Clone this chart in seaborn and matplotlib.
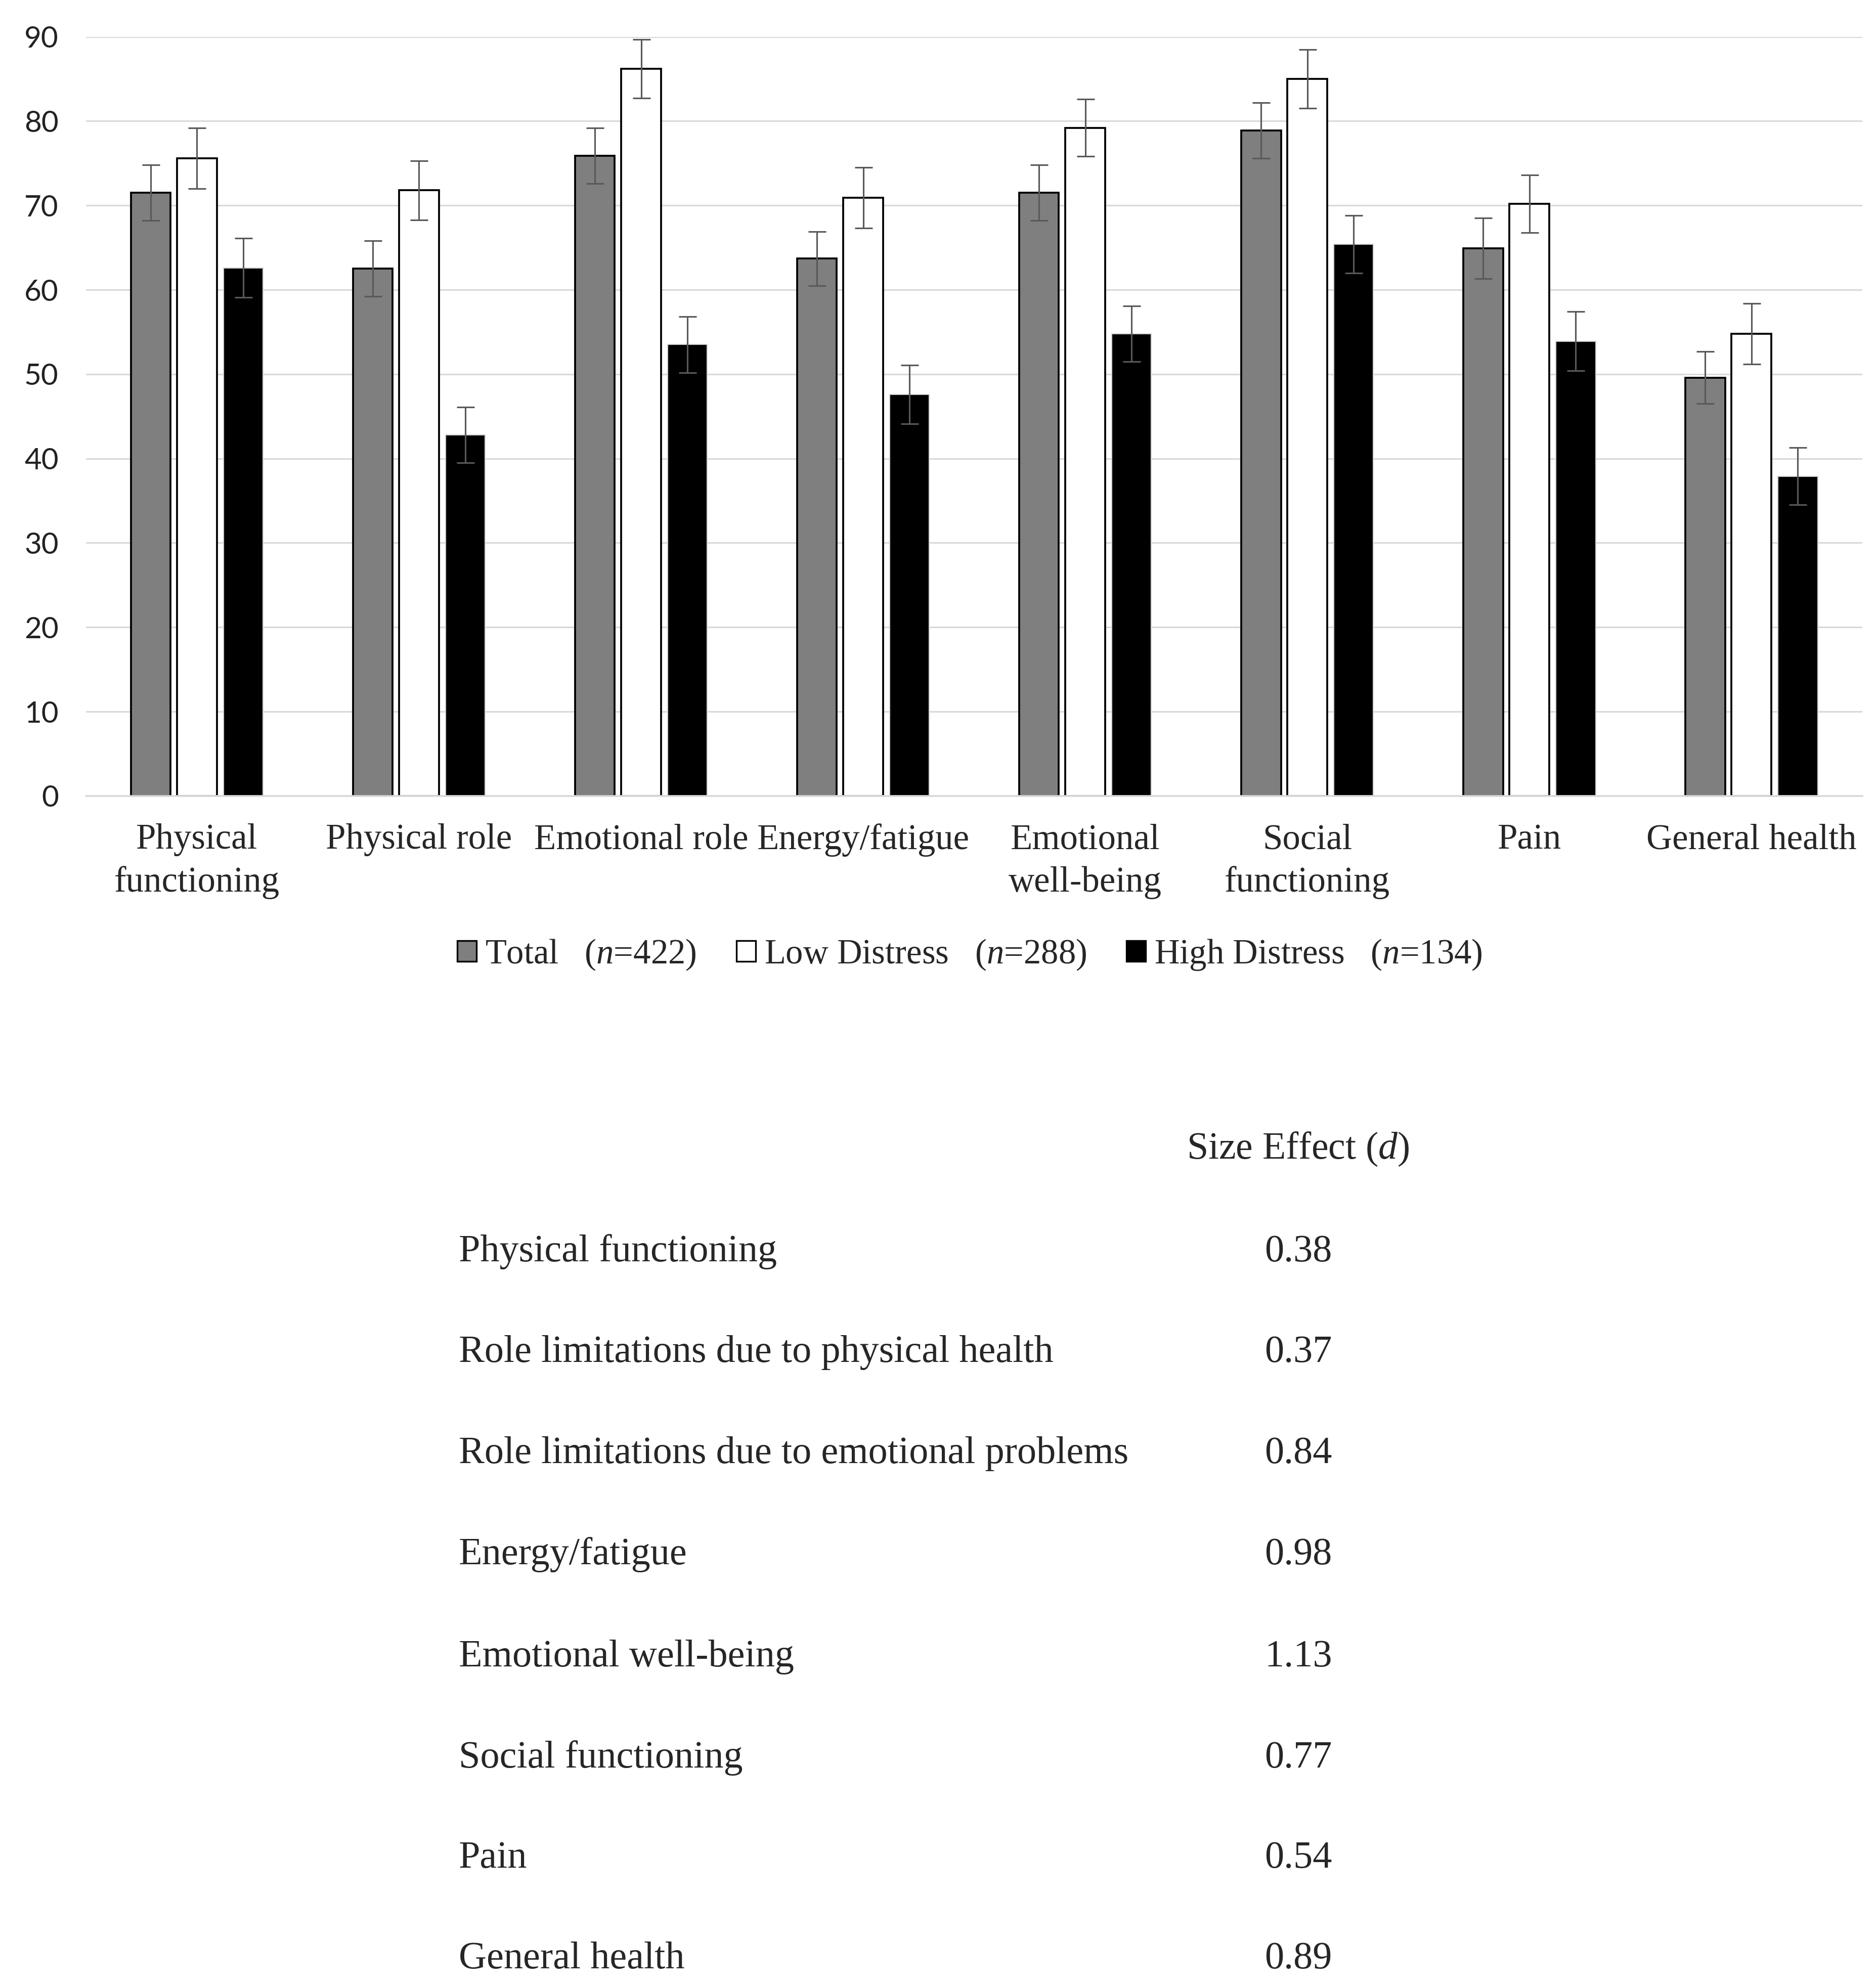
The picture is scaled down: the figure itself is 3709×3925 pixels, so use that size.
import numpy as np
import pandas as pd
import matplotlib
matplotlib.use("Agg")
import matplotlib.pyplot as plt
import seaborn as sns

# values
domains = ["Physical\nfunctioning", "Physical role", "Emotional role", "Energy/fatigue",
           "Emotional\nwell-being", "Social\nfunctioning", "Pain", "General health"]
groups = ["Total", "Low Distress", "High Distress"]
group_n = [422, 288, 134]

total_mean = [71.5, 62.5, 75.9, 63.7, 71.5, 78.9, 64.9, 49.6]
low_mean = [75.6, 71.8, 86.2, 70.9, 79.2, 85.0, 70.2, 54.8]
high_mean = [62.6, 42.8, 53.5, 47.6, 54.8, 65.4, 53.9, 37.9]

total_err = [3.3, 3.3, 3.3, 3.2, 3.3, 3.3, 3.6, 3.1]
low_err = [3.6, 3.5, 3.5, 3.6, 3.4, 3.5, 3.4, 3.6]
high_err = [3.5, 3.3, 3.3, 3.5, 3.3, 3.4, 3.5, 3.4]

effect_labels = ["Physical functioning", "Role limitations due to physical health",
                 "Role limitations due to emotional problems", "Energy/fatigue",
                 "Emotional well-being", "Social functioning", "Pain", "General health"]
effect_d = ["0.38", "0.37", "0.84", "0.98", "1.13", "0.77", "0.54", "0.89"]

bar_colors = ["#7f7f7f", "#ffffff", "#000000"]
edge_colors = ["#000000", "#000000", "#d0d0d0"]

sns.set_theme(style="white")
plt.rcParams["font.family"] = ["Liberation Serif", "DejaVu Serif"]
plt.rcParams["mathtext.fontset"] = "custom"
plt.rcParams["mathtext.rm"] = "Liberation Serif"
plt.rcParams["mathtext.it"] = "Liberation Serif:italic"

means = [total_mean, low_mean, high_mean]
errs = [total_err, low_err, high_err]
df = pd.DataFrame({
    "domain": np.tile(domains, 3),
    "group": np.repeat(groups, len(domains)),
    "score": np.concatenate(means),
})

fig = plt.figure(figsize=(3709 / 300, 3925 / 300), dpi=300)
ax = fig.add_axes([0.0458, 0.599, 0.947, 0.3825])

sns.barplot(data=df, x="domain", y="score", hue="group", order=domains, hue_order=groups,
            palette=bar_colors, width=0.625, gap=0.14, errorbar=None, saturation=1,
            legend=False, ax=ax)

# outlines + error bars
bar_conts = list(ax.containers)
for i, cont in enumerate(bar_conts):
    xs = []
    for p in cont.patches:
        p.set_edgecolor(edge_colors[i])
        p.set_linewidth(0.9 if i < 2 else 0.5)
        p.set_zorder(2)
        xs.append(p.get_x() + p.get_width() / 2)
    ax.errorbar(xs, means[i], yerr=errs[i], fmt="none", ecolor="#595959",
                elinewidth=0.75, capsize=4.2, capthick=0.75, zorder=3)

ax.set_ylim(0, 90)
ax.set_xlim(-0.5, len(domains) - 0.5)
ax.set_yticks(np.arange(0, 91, 10))
ax.yaxis.grid(True, color="#d9d9d9", linewidth=0.75, zorder=0)
ax.set_axisbelow(True)
for s in ["top", "right", "left"]:
    ax.spines[s].set_visible(False)
ax.spines["bottom"].set_color("#d9d9d9")
ax.spines["bottom"].set_linewidth(0.9)
ax.set_xlabel("")
ax.set_ylabel("")
ax.tick_params(axis="y", length=0, pad=13)
ax.tick_params(axis="x", length=0, pad=13)
for t in ax.get_yticklabels():
    t.set_fontfamily("Lato")
    t.set_fontsize(14)
    t.set_color("#222222")
for t in ax.get_xticklabels():
    t.set_fontsize(17)
    t.set_linespacing(1.38)

# legend
handles = [plt.Rectangle((0, 0), 1, 1, facecolor=c, edgecolor="black", linewidth=0.8)
           for c in bar_colors]
labels = [f"{g}   ($\\it{{n}}$={n})" for g, n in zip(groups, group_n)]
fig.legend(handles, labels, loc="center", bbox_to_anchor=(0.517, 0.519), ncol=3,
           frameon=False, fontsize=16.5, handlelength=0.55, handleheight=0.55,
           handletextpad=0.25, columnspacing=1.15)

# effect size table
fig.text(0.692, 0.4165, "Size Effect ($\\it{d}$)", ha="center", va="baseline", fontsize=18.2)
row_y = [0.3645, 0.3140, 0.2630, 0.2120, 0.1605, 0.1095, 0.0590, 0.0085]
for y, lab, d in zip(row_y, effect_labels, effect_d):
    fig.text(0.2446, y, lab, ha="left", va="baseline", fontsize=18.3)
    fig.text(0.692, y, d, ha="center", va="baseline", fontsize=18.3)

fig.savefig("out.png", dpi=300, facecolor="white")
